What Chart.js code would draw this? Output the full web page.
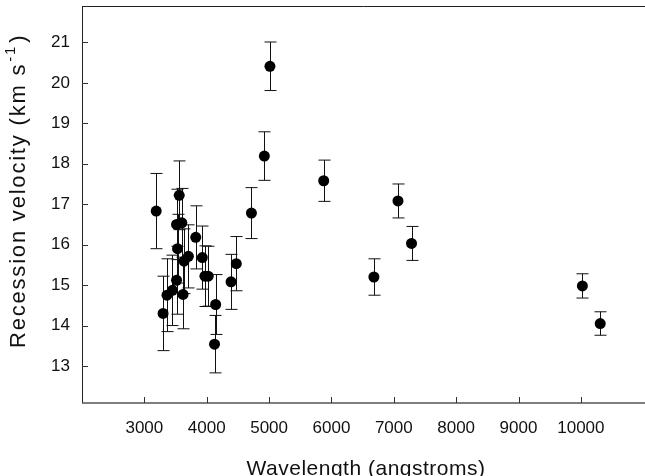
<!DOCTYPE html>
<html>
<head>
<meta charset="utf-8">
<script src="https://cdn.jsdelivr.net/npm/chart.js@4"></script>
<style>
  body { margin: 0; background: #fff; }
</style>
</head>
<body>
<canvas id="chart" width="645" height="476"></canvas>
<script>
// wavelength in angstroms, recession velocity in km/s, and the error half-width
const wavelengths = [3190, 3300, 3363, 3450, 3516, 3516, 3532, 3559, 3601, 3620,
  3636, 3706, 3824, 3929, 3971, 4024, 4125, 4143, 4390, 4474,
  4717, 4924, 5014, 5876, 6681, 7067, 7284, 10024, 10310];
const velocities = [16.83, 14.30, 14.75, 14.87, 15.12, 16.50, 15.90, 17.22, 16.54, 14.77,
  15.59, 15.71, 16.18, 15.68, 15.22, 15.22, 13.54, 14.52, 15.08, 15.53,
  16.78, 18.19, 20.41, 17.58, 15.20, 17.08, 16.03, 14.98, 14.05];
const errors = [0.93, 0.92, 0.90, 0.87, 0.84, 0.87, 0.85, 0.85, 0.85, 0.85,
  0.80, 0.78, 0.78, 0.78, 0.75, 0.74, 0.71, 0.74, 0.68, 0.67,
  0.63, 0.60, 0.60, 0.51, 0.45, 0.42, 0.42, 0.30, 0.29];

const xTickValues = [3000, 4000, 5000, 6000, 7000, 8000, 9000, 10000];
const yTickValues = [13, 14, 15, 16, 17, 18, 19, 20, 21];

const xTitle = "Wavelength (angstroms)";
const yTitle = "Recession velocity (km s";
const yTitleSup = "-1";

const FONT = "'Liberation Sans', Arial, sans-serif";

// Draw the error bars under the points
const errorBarPlugin = {
  id: "errorBars",
  beforeDatasetsDraw(chart) {
    const ctx = chart.ctx;
    const x = chart.scales.x;
    const y = chart.scales.y;
    ctx.save();
    ctx.strokeStyle = "#111";
    ctx.lineWidth = 1;
    for (let i = 0; i < wavelengths.length; i++) {
      const px = Math.round(x.getPixelForValue(wavelengths[i])) + 0.5;
      const top = y.getPixelForValue(velocities[i] + errors[i]);
      const bottom = y.getPixelForValue(velocities[i] - errors[i]);
      ctx.beginPath();
      ctx.moveTo(px, top);
      ctx.lineTo(px, bottom);
      ctx.moveTo(px - 6, top);
      ctx.lineTo(px + 6, top);
      ctx.moveTo(px - 6, bottom);
      ctx.lineTo(px + 6, bottom);
      ctx.stroke();
    }
    ctx.restore();
  }
};

// Frame lines, inward tick marks and the axis titles
const framePlugin = {
  id: "frame",
  afterDraw(chart) {
    const ctx = chart.ctx;
    const area = chart.chartArea;
    const x = chart.scales.x;
    const y = chart.scales.y;
    ctx.save();

    ctx.strokeStyle = "#222";
    ctx.lineWidth = 1;
    ctx.beginPath();
    ctx.moveTo(area.left + 0.5, area.top + 0.5);
    ctx.lineTo(area.left + 0.5, area.bottom);
    ctx.moveTo(area.left, area.top + 0.5);
    ctx.lineTo(chart.width, area.top + 0.5);
    ctx.stroke();

    ctx.strokeStyle = "#555";
    ctx.lineWidth = 1.5;
    ctx.beginPath();
    ctx.moveTo(area.left, area.bottom);
    ctx.lineTo(chart.width, area.bottom);
    ctx.stroke();

    ctx.strokeStyle = "#333";
    ctx.lineWidth = 1;
    ctx.beginPath();
    xTickValues.forEach(v => {
      const px = Math.round(x.getPixelForValue(v)) + 0.5;
      ctx.moveTo(px, area.bottom);
      ctx.lineTo(px, area.bottom - 6);
    });
    yTickValues.forEach(v => {
      const py = Math.round(y.getPixelForValue(v)) + 0.5;
      ctx.moveTo(area.left, py);
      ctx.lineTo(area.left + 6, py);
    });
    ctx.stroke();

    ctx.fillStyle = "#111";
    ctx.font = "21px " + FONT;
    ctx.letterSpacing = "0.5px";
    ctx.textAlign = "center";
    ctx.textBaseline = "alphabetic";
    ctx.fillText(xTitle, 366, 475);

    // rotated y title with the superscript
    ctx.translate(25, 348);
    ctx.rotate(-Math.PI / 2);
    ctx.textAlign = "left";
    ctx.letterSpacing = "1.8px";
    ctx.font = "22px " + FONT;
    ctx.fillText(yTitle, 0, 0);
    let w = ctx.measureText(yTitle).width;
    ctx.font = "15px " + FONT;
    ctx.fillText(yTitleSup, w + 1, -10);
    w += ctx.measureText(yTitleSup).width + 3;
    ctx.font = "22px " + FONT;
    ctx.fillText(")", w, 0);
    ctx.restore();
  }
};

const ctx = document.querySelector("#chart").getContext("2d");
const velocityChart = new Chart(ctx, {
  type: "scatter",
  data: {
    datasets: [{
      data: wavelengths.map((w, i) => ({ x: w, y: velocities[i] })),
      backgroundColor: "#000",
      borderWidth: 0,
      pointRadius: 5.5,
      pointHoverRadius: 5.5
    }]
  },
  options: {
    responsive: false,
    animation: false,
    devicePixelRatio: 1,
    layout: { padding: { top: 6, right: 0, left: 0, bottom: 0 } },
    plugins: {
      legend: { display: false },
      tooltip: { enabled: false }
    },
    scales: {
      x: {
        type: "linear",
        min: 2000,
        max: 10940,
        grid: { display: false, drawTicks: false },
        border: { display: false },
        afterBuildTicks: scale => { scale.ticks = xTickValues.map(v => ({ value: v })); },
        afterFit: scale => {
          scale.height = 73;
          scale.paddingLeft = 0;
          scale.paddingRight = 0;
        },
        ticks: {
          padding: 15,
          maxRotation: 0,
          autoSkip: false,
          color: "#111",
          font: { family: FONT, size: 17 },
          callback: v => String(v)
        }
      },
      y: {
        type: "linear",
        min: 12.085,
        max: 21.9,
        grid: { display: false, drawTicks: false },
        border: { display: false },
        afterBuildTicks: scale => { scale.ticks = yTickValues.map(v => ({ value: v })); },
        afterFit: scale => {
          scale.width = 82;
          scale.paddingTop = 0;
          scale.paddingBottom = 0;
        },
        ticks: {
          padding: 12,
          autoSkip: false,
          color: "#111",
          font: { family: FONT, size: 17 },
          callback: v => String(v)
        }
      }
    }
  },
  plugins: [errorBarPlugin, framePlugin]
});
</script>
</body>
</html>
